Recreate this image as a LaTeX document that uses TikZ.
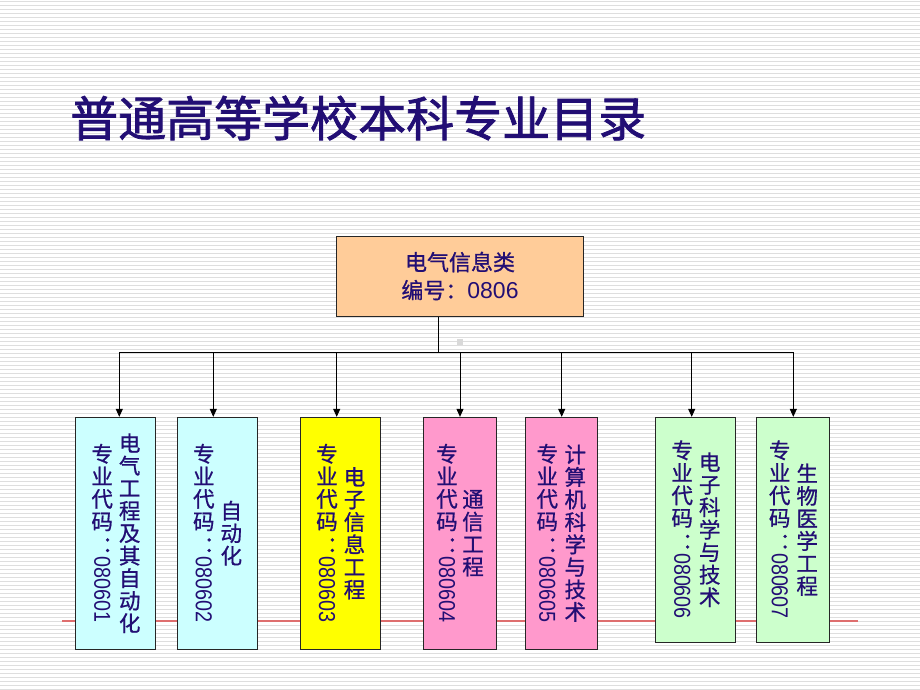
\documentclass[tikz,border=0pt]{standalone}
\usepackage{fontspec}
\usepackage{graphicx}
\setmainfont{Liberation Sans}
\newfontfamily\cjk[FakeBold=0.8]{Noto Sans CJK SC}
\newfontfamily\cjkt[FakeBold=1.6]{Noto Sans CJK SC}
\usetikzlibrary{arrows.meta}
\definecolor{navy}{RGB}{34,14,116}
\definecolor{topfill}{RGB}{255,204,153}
\definecolor{cyanfill}{RGB}{204,255,255}
\definecolor{yellowfill}{RGB}{255,255,0}
\definecolor{pinkfill}{RGB}{255,153,204}
\definecolor{greenfill}{RGB}{204,255,204}
\definecolor{bgline}{RGB}{222,222,222}
\definecolor{redline}{RGB}{222,110,110}
\newcommand\dg[1]{\rotatebox{-90}{\scalebox{0.86}[1]{\normalfont\fontsize{23}{23}\selectfont #1}}}
\newcommand\vcolon{\rotatebox[origin=c]{180}{：}}
\begin{document}
\begin{tikzpicture}[x=1pt,y=-1pt,
  bgl/.style={draw=bgline,line width=1pt},
  boxst/.style={draw=black!85,line width=1pt,inner sep=0pt},
  vt/.style={font=\fontsize{21.5}{22.5}\selectfont\cjk,text=navy,align=center,inner sep=0pt},
  conn/.style={draw=black,line width=0.9pt},
  arr/.style={conn,-{Triangle[width=7pt,length=8pt]}}]
\useasboundingbox (0,0) rectangle (920,690);
\fill[white] (0,0) rectangle (920,690);
\foreach \i in {0,...,172} \draw[bgl] (0,4*\i+1.5) -- (920,4*\i+1.5);
% title
\node[anchor=west,inner sep=0pt,text=navy,font=\fontsize{48}{48}\selectfont\cjkt] (title) at (70,118) {普通高等学校本科专业目录};
% red line
\coordinate (r1) at (62,621);
\coordinate (r2) at (858,621);
\draw[redline,line width=2pt] (r1) -- (r2);
% top box
\node[boxst,fill=topfill,minimum width=246.6pt,minimum height=80pt,text=navy,align=center,font=\fontsize{22}{28}\selectfont\cjk] (top) at (460,276) {电气信息类\\编号：{\normalfont\fontsize{23}{28}\selectfont 0806}};
\fill[gray!30] (456.5,339) rectangle (462.5,345);
% junction and bus
\coordinate (j) at (438,352);
\coordinate (a1) at (119.3,352);
\coordinate (a2) at (213.3,352);
\coordinate (a3) at (336.7,352);
\coordinate (a4) at (460,352);
\coordinate (a5) at (561.7,352);
\coordinate (a6) at (691.7,352);
\coordinate (a7) at (793.3,352);
% boxes
\node[boxst,fill=cyanfill,minimum width=80pt,minimum height=231.7pt] (b1) at (115.7,533.2) {};
\node[boxst,fill=cyanfill,minimum width=80pt,minimum height=231.7pt] (b2) at (217.3,533.2) {};
\node[boxst,fill=yellowfill,minimum width=79.6pt,minimum height=231.7pt] (b3) at (340.5,533.2) {};
\node[boxst,fill=pinkfill,minimum width=73.4pt,minimum height=231.7pt] (b4) at (460,533.2) {};
\node[boxst,fill=pinkfill,minimum width=72pt,minimum height=231.7pt] (b5) at (561.3,533.2) {};
\node[boxst,fill=greenfill,minimum width=80pt,minimum height=224.7pt] (b6) at (695.7,529.7) {};
\node[boxst,fill=greenfill,minimum width=73pt,minimum height=224.7pt] (b7) at (793.2,529.7) {};
% connectors
\draw[conn] (top.south -| j) -- (j);
\draw[conn] (a1) -- (a7);
\draw[arr] (a1) -- (a1 |- b1.north);
\draw[arr] (a2) -- (a2 |- b2.north);
\draw[arr] (a3) -- (a3 |- b3.north);
\draw[arr] (a4) -- (a4 |- b4.north);
\draw[arr] (a5) -- (a5 |- b5.north);
\draw[arr] (a6) -- (a6 |- b6.north);
\draw[arr] (a7) -- (a7 |- b7.north);
% box texts
\node[vt] (n1) at ([xshift=14pt]b1.center) {电\\气\\工\\程\\及\\其\\自\\动\\化};
\node[vt] (c1) at ([xshift=-13.5pt]b1.center) {专\\业\\代\\码\\\vcolon\\[-18pt]\dg{080601}};
\node[vt] (n2) at ([xshift=14pt]b2.center) {自\\动\\化};
\node[vt] (c2) at ([xshift=-13.5pt]b2.center) {专\\业\\代\\码\\\vcolon\\[-18pt]\dg{080602}};
\node[vt] (n3) at ([xshift=14pt]b3.center) {电\\子\\信\\息\\工\\程};
\node[vt] (c3) at ([xshift=-13.5pt]b3.center) {专\\业\\代\\码\\\vcolon\\[-18pt]\dg{080603}};
\node[vt] (n4) at ([xshift=13pt]b4.center) {通\\信\\工\\程};
\node[vt] (c4) at ([xshift=-13pt]b4.center) {专\\业\\代\\码\\\vcolon\\[-18pt]\dg{080604}};
\node[vt] (n5) at ([xshift=14pt]b5.center) {计\\算\\机\\科\\学\\与\\技\\术};
\node[vt] (c5) at ([xshift=-14pt]b5.center) {专\\业\\代\\码\\\vcolon\\[-18pt]\dg{080605}};
\node[vt] (n6) at ([xshift=14pt]b6.center) {电\\子\\科\\学\\与\\技\\术};
\node[vt] (c6) at ([xshift=-13.5pt]b6.center) {专\\业\\代\\码\\\vcolon\\[-18pt]\dg{080606}};
\node[vt] (n7) at ([xshift=14pt]b7.center) {生\\物\\医\\学\\工\\程};
\node[vt] (c7) at ([xshift=-13.5pt]b7.center) {专\\业\\代\\码\\\vcolon\\[-18pt]\dg{080607}};
\end{tikzpicture}
\end{document}
